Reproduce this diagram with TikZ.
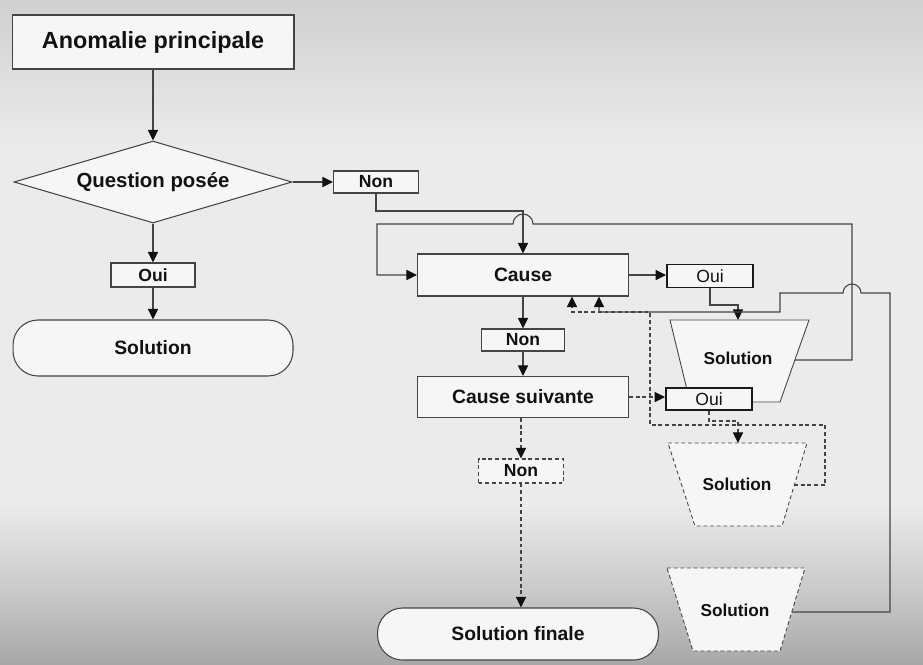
\documentclass[tikz,border=0pt]{standalone}
\usepackage{fontspec}
\setmainfont{Liberation Sans}
\usetikzlibrary{shapes.geometric,arrows.meta,calc}

\definecolor{ink}{HTML}{111111}
\definecolor{edge}{HTML}{444444}
\definecolor{boxfill}{HTML}{F6F6F6}
\definecolor{bgtop}{HTML}{D0D0D0}
\definecolor{bgmid}{HTML}{EBEBEB}
\definecolor{bgbot}{HTML}{A8A8A8}

% paper tone: grey at the top, light in the middle, darker at the bottom
\pgfdeclareverticalshading{paper}{100bp}{%
  color(0bp)=(bgbot); color(25bp)=(bgbot); color(30bp)=(bgbot!55!bgmid);
  color(37bp)=(bgmid); color(64bp)=(bgmid); color(75bp)=(bgtop); color(100bp)=(bgtop)}

\tikzset{
  box/.style={draw=edge, fill=boxfill, line width=0.6pt, inner sep=0pt,
    text=ink, font=\bfseries\fontsize{11}{13}\selectfont},
  small/.style={box, font=\bfseries\fontsize{10}{12}\selectfont},
  ouibox/.style={box, draw=black!90, line width=1.1pt, font=\fontsize{10}{12}\selectfont},
  dsh/.style={dash pattern=on 2.2pt off 1.6pt},
  trap/.style={draw=edge, fill=boxfill, line width=0.5pt},
  lbl/.style={text=ink, font=\bfseries\fontsize{9.8}{12}\selectfont},
  arr/.style={draw=edge, line width=0.6pt,
    -{Triangle[length=6pt,width=5.8pt,color=ink]}},
}

\begin{document}
\begin{tikzpicture}[x=0.02cm, y=-0.02cm]
  \shade[shading=paper] (0,0) rectangle (923,664);
  \useasboundingbox (0,0) rectangle (923,664);

  % left column
  \node[box, minimum width=5.64cm, minimum height=1.08cm,
        font=\bfseries\fontsize{13.3}{15}\selectfont] (anom) at (153,42) {Anomalie principale};
  \node[box, diamond, shape aspect=3.4, minimum width=5.56cm, minimum height=1.64cm,
        font=\bfseries\fontsize{11.6}{13}\selectfont] (quest) at (153,182) {Question posée};
  \node[small, minimum width=1.68cm, minimum height=0.48cm] (ouiL) at (153,275) {Oui};
  \node[box, rounded corners=5mm, minimum width=5.6cm, minimum height=1.12cm] (solL) at (153,348) {Solution};

  % middle column
  \node[small, minimum width=1.7cm, minimum height=0.44cm] (nonT) at (376,182) {Non};
  \node[box, minimum width=4.22cm, minimum height=0.84cm] (cause) at (523,275) {Cause};
  \node[small, minimum width=1.66cm, minimum height=0.44cm] (nonM) at (523,340) {Non};
  \node[box, minimum width=4.22cm, minimum height=0.82cm] (causeS) at (523,397) {Cause suivante};
  \node[small, dsh, minimum width=1.7cm, minimum height=0.48cm] (nonB) at (521,471) {Non};
  \node[box, rounded corners=5mm, minimum width=5.62cm, minimum height=1.04cm] (solF) at (518,634) {Solution finale};

  % solution trapezia
  \draw[trap] (670,320) -- (809,320) -- (780,402) -- (690,402) -- cycle;
  \node[lbl] (sol1) at (738,358) {Solution};
  \coordinate (s1top) at (738,320);
  \coordinate (s1r) at (795,360);

  \draw[trap, dsh] (668,443) -- (807,443) -- (782,526) -- (695,526) -- cycle;
  \node[lbl] (sol2) at (737,484) {Solution};
  \coordinate (s2top) at (738,443);
  \coordinate (s2r) at (794,485);

  \draw[trap, dsh] (667,568) -- (805,568) -- (780,651) -- (693,651) -- cycle;
  \node[lbl] (sol3) at (735,610) {Solution};
  \coordinate (s3r) at (792,612);

  % yes boxes on the right
  \node[ouibox, minimum width=1.72cm, minimum height=0.46cm] (ouiR1) at (710,276) {Oui};
  \node[ouibox, minimum width=1.72cm, minimum height=0.44cm] (ouiR2) at (709,399) {Oui};

  % bend points of the routed connectors
  \coordinate (jA) at (523,211);
  \coordinate (lp1) at (852,224);
  \coordinate (lp2) at (377,224);
  \coordinate (c2) at (825,425);
  \coordinate (c3) at (650,312);
  \coordinate (in1) at (572,312);
  \coordinate (in2) at (599,312);
  \coordinate (d1) at (890,293);
  \coordinate (d2) at (780,312);

  % left column flow
  \draw[arr] (anom) -- (quest);
  \draw[arr] (quest) -- (ouiL);
  \draw[arr] (ouiL) -- (solL);
  \draw[arr] (quest.east) -- (quest.east -| nonT.west);

  % "Non" to the cause
  \draw[arr] (nonT.south) |- (jA) -- (cause.north);
  \draw[arr] (cause) -- (nonM);
  \draw[arr] (nonM) -- (causeS);

  % cause -> oui -> solution, and back to the cause
  \draw[arr] (cause.east) -- (cause.east -| ouiR1.west);
  \draw[arr] (ouiR1.south) |- ($(s1top)+(0,-15)$) -- (s1top);
  \draw[arr] (s1r) -| (lp1) -- ($(jA |- lp1)+(10,0)$)
        arc[start angle=0, end angle=180, radius=2mm] -- (lp2) |- (cause.west);

  % next cause -> oui -> solution, and back
  \draw[arr, dsh] (causeS.east) -- (causeS.east -| ouiR2.west);
  \draw[arr, dsh] (ouiR2.south) |- ($(s2top)+(0,-22)$) -- (s2top);
  \draw[arr, dsh] (s2r) -| (c2) -| (c3) -- (in1) -- (in1 |- cause.south);

  % last solution back to the cause
  \draw[arr] (s3r) -| (d1) -- ($(lp1 |- d1)+(9,0)$)
        arc[start angle=0, end angle=180, radius=1.8mm] -- (d2 |- d1) -- (d2) -- (in2) -- (in2 |- cause.south);

  % final branch
  \draw[arr, dsh] (causeS.south -| nonB.north) -- (nonB.north);
  \draw[arr, dsh] (nonB.south) -- (nonB.south |- solF.north);
\end{tikzpicture}
\end{document}
